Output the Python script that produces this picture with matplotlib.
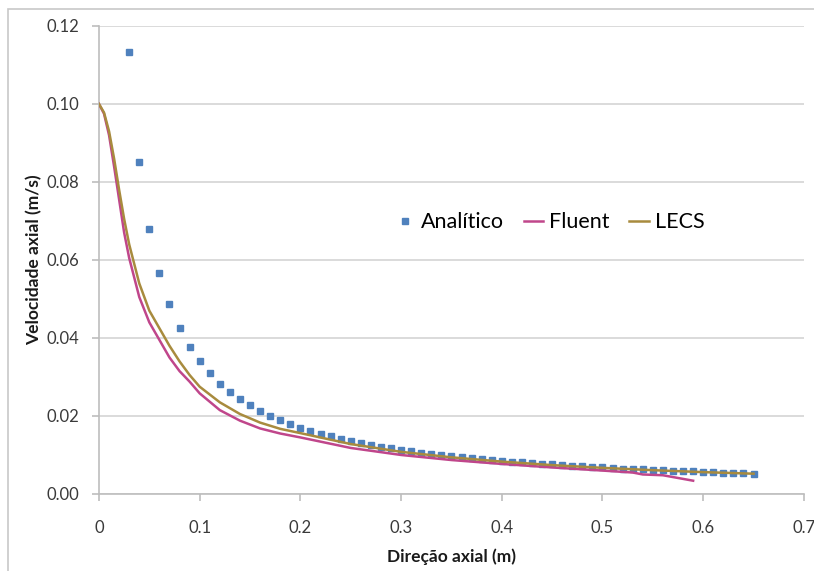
import matplotlib
matplotlib.use("Agg")
import matplotlib.pyplot as plt
from matplotlib.patches import Rectangle

plt.rcParams["font.family"] = ["Lato", "DejaVu Sans"]

# analytical solution (square markers)
x_anal = [0.03, 0.04, 0.05, 0.06, 0.07, 0.08, 0.09, 0.10, 0.11, 0.12, 0.13, 0.14,
          0.15, 0.16, 0.17, 0.18, 0.19, 0.20, 0.21, 0.22, 0.23, 0.24, 0.25, 0.26,
          0.27, 0.28, 0.29, 0.30, 0.31, 0.32, 0.33, 0.34, 0.35, 0.36, 0.37, 0.38,
          0.39, 0.40, 0.41, 0.42, 0.43, 0.44, 0.45, 0.46, 0.47, 0.48, 0.49, 0.50,
          0.51, 0.52, 0.53, 0.54, 0.55, 0.56, 0.57, 0.58, 0.59, 0.60, 0.61, 0.62,
          0.63, 0.64, 0.65]
y_anal = [0.1133, 0.0850, 0.0680, 0.0567, 0.0486, 0.0425, 0.0378, 0.0340, 0.0309,
          0.0283, 0.0262, 0.0243, 0.0227, 0.0213, 0.0200, 0.0189, 0.0179, 0.0170,
          0.0162, 0.0155, 0.0148, 0.0142, 0.0136, 0.0131, 0.0126, 0.0121, 0.0117,
          0.0113, 0.0110, 0.0106, 0.0103, 0.0100, 0.0097, 0.0094, 0.0092, 0.0089,
          0.0087, 0.0085, 0.0083, 0.0081, 0.0079, 0.0077, 0.0076, 0.0074, 0.0072,
          0.0071, 0.0069, 0.0068, 0.0067, 0.0065, 0.0064, 0.0063, 0.0062, 0.0061,
          0.0060, 0.0059, 0.0058, 0.0057, 0.0056, 0.0055, 0.0054, 0.0053, 0.0052]

# Fluent
x_fluent = [0.0, 0.005, 0.01, 0.015, 0.02, 0.025, 0.03, 0.04, 0.05, 0.06, 0.07,
            0.08, 0.09, 0.10, 0.12, 0.14, 0.16, 0.18, 0.20, 0.25, 0.30, 0.35,
            0.40, 0.45, 0.50, 0.53, 0.54, 0.56, 0.59]
y_fluent = [0.1000, 0.0975, 0.0920, 0.0840, 0.0755, 0.0670, 0.0605, 0.0505,
            0.0440, 0.0395, 0.0350, 0.0315, 0.0288, 0.0258, 0.0215, 0.0188,
            0.0168, 0.0155, 0.0145, 0.0118, 0.0100, 0.0087, 0.0077, 0.0068,
            0.0060, 0.0055, 0.0050, 0.0048, 0.0034]

# LECS
x_lecs = [0.0, 0.005, 0.01, 0.015, 0.02, 0.025, 0.03, 0.035, 0.04, 0.05, 0.06,
          0.07, 0.08, 0.09, 0.10, 0.12, 0.14, 0.16, 0.18, 0.20, 0.25, 0.30,
          0.35, 0.40, 0.45, 0.50, 0.55, 0.60, 0.65]
y_lecs = [0.1000, 0.0978, 0.0930, 0.0860, 0.0780, 0.0705, 0.0640, 0.0590,
          0.0540, 0.0470, 0.0425, 0.0380, 0.0340, 0.0305, 0.0275, 0.0235,
          0.0205, 0.0183, 0.0167, 0.0156, 0.0128, 0.0108, 0.0094, 0.0083,
          0.0074, 0.0067, 0.0061, 0.0056, 0.0052]

x_ticks = [0, 0.1, 0.2, 0.3, 0.4, 0.5, 0.6, 0.7]
x_ticklabels = ["0", "0.1", "0.2", "0.3", "0.4", "0.5", "0.6", "0.7"]
y_ticks = [0.00, 0.02, 0.04, 0.06, 0.08, 0.10, 0.12]
y_ticklabels = ["0.00", "0.02", "0.04", "0.06", "0.08", "0.10", "0.12"]

BLUE, MAGENTA, GOLD = "#4F81BD", "#C0468B", "#A88B3E"
GRID, SPINE, TXT = "#D4D4D4", "#BDBDBD", "#3A3A3A"

fig = plt.figure(figsize=(8.14, 5.71), dpi=100)
ax = fig.add_axes([0.1216, 0.1349, 0.866, 0.8196])

ax.plot(x_anal, y_anal, "s", color=BLUE, ms=5, mec=BLUE, label="Analítico", zorder=3)
ax.plot(x_fluent, y_fluent, color=MAGENTA, lw=1.8, label="Fluent", zorder=4)
ax.plot(x_lecs, y_lecs, color=GOLD, lw=1.8, label="LECS", zorder=4)

ax.set_xlim(0, 0.7)
ax.set_ylim(0, 0.12)
ax.set_xticks(x_ticks)
ax.set_xticklabels(x_ticklabels)
ax.set_yticks(y_ticks)
ax.set_yticklabels(y_ticklabels)
ax.tick_params(axis="both", colors=SPINE, labelcolor=TXT, labelsize=12, length=5, width=1.2)
ax.tick_params(axis="x", pad=14)
ax.tick_params(axis="y", pad=9)
ax.grid(axis="y", color=GRID, lw=1.2)
ax.set_axisbelow(True)
for s in ("top", "right"):
    ax.spines[s].set_visible(False)
for s in ("left", "bottom"):
    ax.spines[s].set_color(SPINE)
    ax.spines[s].set_linewidth(1.2)

ax.set_xlabel("Direção axial (m)", fontsize=12.5, fontweight="bold", color="#1a1a1a", labelpad=9)
ax.set_ylabel("Velocidade axial (m/s)", fontsize=12.5, fontweight="bold", color="#1a1a1a", labelpad=3)

ax.legend(loc="center", bbox_to_anchor=(0.64, 0.581), ncol=3, frameon=False, fontsize=15.5,
          handlelength=0.9, handletextpad=0.3, columnspacing=0.9, markerscale=0.9)

fig.patches.append(Rectangle((0.0098, -0.05), 1.1, 1.034, transform=fig.transFigure,
                             fill=False, ec="#C8C8C8", lw=1.2, zorder=0))

fig.savefig("out.png", dpi=100)
